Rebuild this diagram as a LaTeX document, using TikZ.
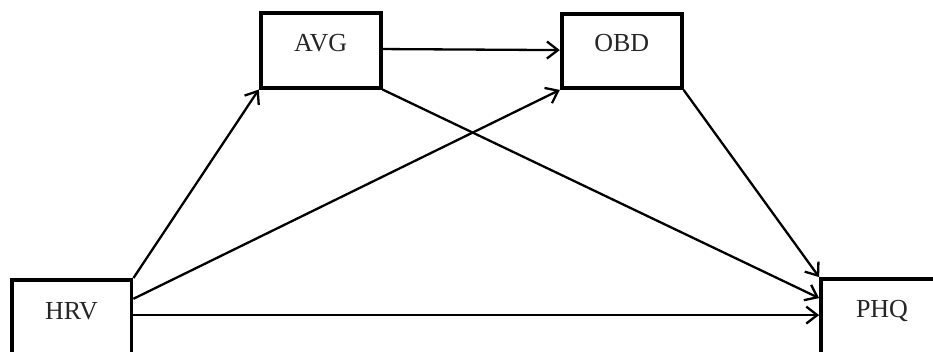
\documentclass[tikz,border=0pt]{standalone}
\usepackage{fontspec}
\setmainfont{Liberation Serif}
\usetikzlibrary{arrows.meta,calc}
\begin{document}
\begin{tikzpicture}[x=1pt,y=-1pt,
  box/.style={draw=black, line width=3.8pt, fill=white, rectangle, minimum width=120pt, inner sep=0pt},
  txt/.style={font=\fontsize{26}{30}\selectfont, text=black!85},
  arr/.style={draw=black, line width=2.3pt, -{Straight Barb[length=11pt,width=17pt,line width=2.3pt]}}
]
\useasboundingbox[fill=white] (0,0) rectangle (933,352);
\clip (0,0) rectangle (933,352);
\node[box, minimum height=74.7pt] (avg) at (320.7,50.3) {};
\node[box, minimum height=74pt] (obd) at (621.7,51) {};
\node[box, minimum width=119.8pt, minimum height=80pt] (hrv) at (71.6,320) {};
\node[box, minimum height=80pt] (phq) at (881,319) {};
\node[txt] (tavg) at (320.7,43) {AVG};
\node[txt] (tobd) at (621.7,43) {OBD};
\node[txt] (thrv) at (71.6,311) {HRV};
\node[txt] (tphq) at (882,311) {PHQ};
\coordinate (avgE) at ($(avg.north east)+(0,38)$);
\coordinate (obdW) at ($(obd.north west)+(0,38)$);
\coordinate (hrvA) at ($(hrv.north east)+(0,20.7)$);
\coordinate (hrvB) at ($(hrv.north east)+(0,37)$);
\coordinate (phqA) at ($(phq.north west)+(0,21)$);
\coordinate (phqB) at ($(phq.north west)+(0,38)$);
\draw[arr] (avgE) -- (obdW);
\draw[arr] (hrv.north east) -- (avg.south west);
\draw[arr] (hrvA) -- (obd.south west);
\draw[arr] (hrvB) -- (phqB);
\draw[arr] (avg.south east) -- (phqA);
\draw[arr] (obd.south east) -- (phq.north west);
\end{tikzpicture}
\end{document}
